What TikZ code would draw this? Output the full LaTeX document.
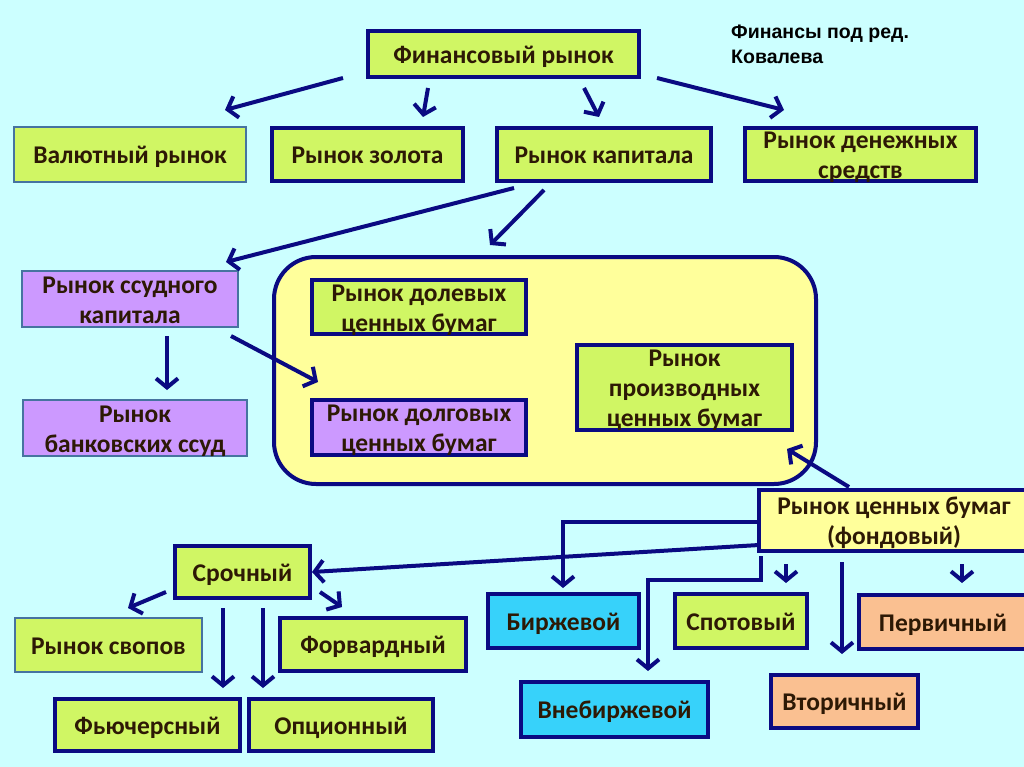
\documentclass[tikz,border=0pt]{standalone}
\usepackage{fontspec}
\setmainfont{Carlito}
\newfontfamily\notefont{Liberation Sans}
\usetikzlibrary{arrows.meta}
\definecolor{bgc}{RGB}{204,255,255}
\definecolor{navy}{RGB}{10,10,130}
\definecolor{steel}{RGB}{70,115,160}
\definecolor{limec}{RGB}{208,246,100}
\definecolor{purp}{RGB}{204,153,255}
\definecolor{lyel}{RGB}{255,255,155}
\definecolor{cyanc}{RGB}{55,210,250}
\definecolor{peach}{RGB}{250,192,145}
\definecolor{txt}{RGB}{45,25,5}
\newcommand{\bxt}[1]{\raisebox{-9.4pt}[0pt][0pt]{\begin{tabular}{@{}c@{}}#1\end{tabular}}}
\tikzset{
  box/.style={draw=navy, line width=4pt, text=txt, inner sep=0pt,
    font=\fontsize{25.5}{30}\selectfont\bfseries},
  thinbox/.style={box, draw=steel, line width=2.5pt},
  arr/.style={draw=navy, line width=4pt, -{Straight Barb[length=9pt,width=22pt]}},
}
\begin{document}
\begin{tikzpicture}[x=1pt,y=-1pt]
\useasboundingbox (0,0) rectangle (1024,767);
\fill[bgc] (0,0) rectangle (1024,767);

% top level
\node[box, fill=limec, minimum width=271pt, minimum height=46pt] (fin) at (503.5,54) {\bxt{Финансовый рынок}};
\node[anchor=north west, align=left, inner sep=0pt, font=\notefont\fontsize{19.5}{25}\selectfont\bfseries] (note) at (731,25) {Финансы под ред.\\Ковалева};

\node[thinbox, fill=limec, minimum width=232pt, minimum height=55pt] (val) at (130,154.5) {\bxt{Валютный рынок}};
\node[box, fill=limec, minimum width=191pt, minimum height=53pt] (gold) at (367.5,154.5) {\bxt{Рынок золота}};
\node[box, fill=limec, minimum width=214pt, minimum height=53pt] (cap) at (604,154.5) {\bxt{Рынок капитала}};
\node[box, fill=limec, minimum width=231pt, minimum height=53pt] (den) at (860.5,154.5) {\bxt{Рынок денежных\\средств}};

% container
\node[draw=navy, line width=4pt, fill=lyel, rounded corners=42pt, minimum width=542pt, minimum height=227pt] (cont) at (545,370.5) {};
\node[box, fill=limec, minimum width=214pt, minimum height=54pt] (dol) at (419,307) {\bxt{Рынок долевых\\ценных бумаг}};
\node[box, fill=purp, minimum width=214pt, minimum height=55pt] (dolg) at (419,427.5) {\bxt{Рынок долговых\\ценных бумаг}};
\node[box, fill=limec, minimum width=215pt, minimum height=85pt] (proiz) at (684.5,387.5) {\bxt{Рынок\\производных\\ценных бумаг}};

% left
\node[thinbox, fill=purp, minimum width=216pt, minimum height=56pt] (ssud) at (130,299) {\bxt{Рынок ссудного\\капитала}};
\node[thinbox, fill=purp, minimum width=224pt, minimum height=56pt] (bank) at (135,428) {\bxt{Рынок\\банковских ссуд}};

% securities market
\node[box, fill=lyel, minimum width=270pt, minimum height=61pt] (fond) at (894,520.5) {\bxt{Рынок ценных бумаг\\(фондовый)}};
\node[box, fill=cyanc, minimum width=151pt, minimum height=54pt] (birzh) at (563.5,621) {\bxt{Биржевой}};
\node[box, fill=cyanc, minimum width=187pt, minimum height=55pt] (vne) at (614.5,709.5) {\bxt{Внебиржевой}};
\node[box, fill=limec, minimum width=132pt, minimum height=54pt] (spot) at (741,621) {\bxt{Спотовый}};
\node[box, fill=peach, minimum width=168pt, minimum height=54pt] (perv) at (943,622) {\bxt{Первичный}};
\node[box, fill=peach, minimum width=147pt, minimum height=53pt] (vtor) at (844.5,701.5) {\bxt{Вторичный}};

% derivatives
\node[box, fill=limec, minimum width=135pt, minimum height=52pt] (sroch) at (242.5,572) {\bxt{Срочный}};
\node[thinbox, fill=limec, minimum width=187pt, minimum height=54pt] (svop) at (108.5,645) {\bxt{Рынок свопов}};
\node[box, fill=limec, minimum width=186pt, minimum height=53pt] (forv) at (373,644.5) {\bxt{Форвардный}};
\node[box, fill=limec, minimum width=185pt, minimum height=52pt] (fut) at (147.5,725) {\bxt{Фьючерсный}};
\node[box, fill=limec, minimum width=184pt, minimum height=52pt] (opc) at (341,725) {\bxt{Опционный}};

% arrow end points
\coordinate (a1s) at (343,78);  \coordinate (a1e) at (225,110);
\coordinate (a2s) at (428,88);  \coordinate (a2e) at (423,117);
\coordinate (a3s) at (584,88);  \coordinate (a3e) at (599,117);
\coordinate (a4s) at (657,78);  \coordinate (a4e) at (784,110);
\coordinate (a5s) at (514,188); \coordinate (a5e) at (226,262);
\coordinate (a6s) at (544,190); \coordinate (a6e) at (490,245);
\coordinate (a7s) at (167,336); \coordinate (a7e) at (167,390);
\coordinate (a8s) at (231,336); \coordinate (a8e) at (318,382);
\coordinate (a9s) at (849,487); \coordinate (a9e) at (787,449);
\coordinate (a10e) at (563,588);
\coordinate (a11s) at (759,545);
\coordinate (a12s) at (761,556); \coordinate (a12e) at (648,671);
\coordinate (a13s) at (786,564); \coordinate (a13e) at (786,583);
\coordinate (a14s) at (842,562); \coordinate (a14e) at (842,654);
\coordinate (a15s) at (962,564); \coordinate (a15e) at (962,583);
\coordinate (a16s) at (166,592); \coordinate (a16e) at (128,608);
\coordinate (a17s) at (320,592); \coordinate (a17e) at (342,607);
\coordinate (a18s) at (223,608); \coordinate (a18e) at (223,688);
\coordinate (a19s) at (263,608); \coordinate (a19e) at (263,688);

\draw[arr] (a1s) -- (a1e);
\draw[arr] (a2s) -- (a2e);
\draw[arr] (a3s) -- (a3e);
\draw[arr] (a4s) -- (a4e);
\draw[arr] (a5s) -- (a5e);
\draw[arr] (a6s) -- (a6e);
\draw[arr] (a7s) -- (a7e);
\draw[arr] (a8s) -- (a8e);
\draw[arr] (a9s) -- (a9e);
\draw[arr] (fond.west |- 0,522) -| (a10e);
\draw[arr] (a11s) -- (sroch.east);
\draw[arr] (a12s) -- (761,580) -| (a12e);
\draw[arr] (a13s) -- (a13e);
\draw[arr] (a14s) -- (a14e);
\draw[arr] (a15s) -- (a15e);
\draw[arr] (a16s) -- (a16e);
\draw[arr] (a17s) -- (a17e);
\draw[arr] (a18s) -- (a18e);
\draw[arr] (a19s) -- (a19e);
\end{tikzpicture}
\end{document}
